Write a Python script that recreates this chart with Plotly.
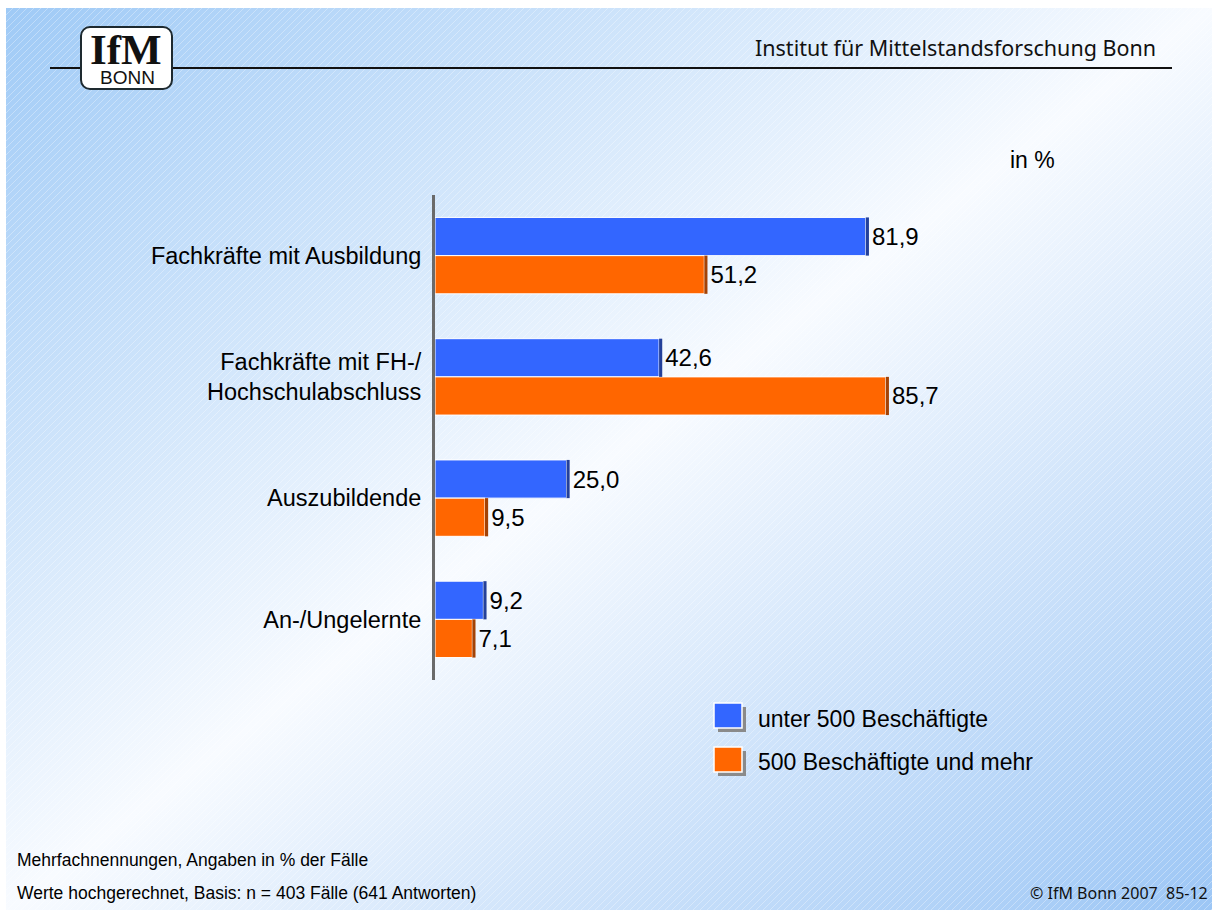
import base64
import plotly.graph_objects as go

# ---------------- data ----------------
categories = [
    "Fachkräfte mit Ausbildung",
    "Fachkräfte mit FH-/<br>Hochschulabschluss",
    "Auszubildende",
    "An-/Ungelernte",
]
under500 = [81.9, 42.6, 25.0, 9.2]
over500 = [51.2, 85.7, 9.5, 7.1]
series_names = ["unter 500 Beschäftigte", "500 Beschäftigte und mehr"]

# ---------------- layout helpers (pixels) ----------------
W, H = 1212, 910
L, R, T, B = 435, 961, 195, 680


def X(px):
    return (px - L) / (R - L)


def Y(py):
    return (B - py) / (B - T)


def fmt(v):
    return f"{v:.1f}".replace(".", ",")


BLUE, BLUE_SIDE = "#3366ff", "#23409a"
ORANGE, ORANGE_SIDE = "#ff6600", "#a34205"
DEPTH = 0.6
FONT = "Liberation Sans, Arial, sans-serif"
SANS2 = "Noto Sans, sans-serif"

fig = go.Figure()
for name, vals, col, grp in [
    (series_names[0], under500, BLUE, "a"),
    (series_names[1], over500, ORANGE, "b"),
]:
    fig.add_trace(go.Bar(
        name=name, y=categories, x=vals, orientation="h", offsetgroup=grp,
        marker=dict(color=col, line=dict(color="#ffffff", width=1)),
        showlegend=False, hoverinfo="x+y",
    ))
for vals, col, grp in [(under500, BLUE_SIDE, "a"), (over500, ORANGE_SIDE, "b")]:
    fig.add_trace(go.Bar(
        y=categories, x=[DEPTH] * len(vals), base=vals, orientation="h",
        offsetgroup=grp, marker=dict(color=col, line=dict(width=0)),
        text=[fmt(v) for v in vals], textposition="outside",
        textfont=dict(family=FONT, size=24, color="#000000"),
        cliponaxis=False, showlegend=False, hoverinfo="skip",
    ))

# ---------------- background (gradient + hatching + logo box + header rule) ----------------
svg = f'''<svg xmlns="http://www.w3.org/2000/svg" width="{W}" height="{H}" viewBox="0 0 {W} {H}">
<defs>
<linearGradient id="g" x1="0" y1="0" x2="1" y2="1">
<stop offset="0" stop-color="#9fcaf6"/>
<stop offset="0.5" stop-color="#f8fbff"/>
<stop offset="1" stop-color="#9cc6f5"/>
</linearGradient>
<pattern id="p" patternUnits="userSpaceOnUse" width="7" height="7">
<path d="M-1,1 L1,-1 M0,7 L7,0 M6,8 L8,6" stroke="#ffffff" stroke-opacity="0.45" stroke-width="0.7"/>
</pattern>
</defs>
<rect x="0" y="0" width="{W}" height="{H}" fill="#ffffff"/>
<rect x="6" y="8" width="{W-6}" height="{H-8}" fill="url(#g)"/>
<rect x="6" y="8" width="{W-6}" height="{H-8}" fill="url(#p)"/>
<line x1="50" y1="68" x2="1172" y2="68" stroke="#111111" stroke-width="2"/>
<rect x="81" y="27" width="91" height="62" rx="9" ry="9" fill="#ffffff" stroke="#1e2a30" stroke-width="2"/>
</svg>'''
src = "data:image/svg+xml;base64," + base64.b64encode(svg.encode("utf-8")).decode("ascii")

shapes = []
for y0, col in [(703, BLUE), (747, ORANGE)]:
    shapes.append(dict(type="rect", xref="paper", yref="paper",
                       x0=X(718), x1=X(746), y0=Y(y0 + 4), y1=Y(y0 + 29),
                       fillcolor="#8a8a8a", line=dict(width=0), layer="above"))
    shapes.append(dict(type="rect", xref="paper", yref="paper",
                       x0=X(714), x1=X(742), y0=Y(y0), y1=Y(y0 + 25),
                       fillcolor=col, line=dict(color="#ffffff", width=1.5), layer="above"))


def ann(text, px, py, size, xanchor="left", family=FONT, color="#000000"):
    return dict(text=text, x=X(px), y=Y(py), xref="paper", yref="paper",
                xanchor=xanchor, yanchor="middle", showarrow=False,
                font=dict(family=family, size=size, color=color))


annotations = [
    ann("<b>IfM</b>", 126, 50, 43, "center", "Liberation Serif, Times New Roman, serif", "#111111"),
    ann("BONN", 127, 78, 19, "center", FONT, "#111111"),
    ann("Institut für Mittelstandsforschung Bonn", 1158, 48, 21.5, "right", SANS2, "#111111"),
    ann("in %", 1032, 160, 23, "center"),
    ann(series_names[0], 756, 719, 23),
    ann(series_names[1], 756, 762, 23),
    ann("Mehrfachnennungen, Angaben in % der Fälle", 15, 860, 17.5),
    ann("Werte hochgerechnet, Basis: n = 403 Fälle (641 Antworten)", 15, 893, 17.5),
    ann("© IfM Bonn 2007  85-12", 1210, 893, 16, "right", SANS2, "#111111"),
]

fig.update_layout(
    width=W, height=H,
    margin=dict(l=L, r=W - R, t=T, b=H - B, pad=0),
    paper_bgcolor="#ffffff", plot_bgcolor="rgba(0,0,0,0)",
    barmode="group", bargap=0.37, bargroupgap=0.0,
    separators=",.",
    showlegend=False,
    images=[dict(source=src, xref="paper", yref="paper", x=X(0), y=Y(0),
                 sizex=W / (R - L), sizey=H / (B - T), xanchor="left", yanchor="top",
                 sizing="stretch", layer="below")],
    shapes=shapes,
    annotations=annotations,
    xaxis=dict(range=[0, 100], showgrid=False, zeroline=False, showticklabels=False,
               showline=False, ticks=""),
    yaxis=dict(autorange="reversed", showgrid=False, zeroline=False,
               showline=True, linecolor="#6a6a6a", linewidth=3, ticks="",
               ticklabelstandoff=6,
               tickfont=dict(family=FONT, size=23.5, color="#000000")),
    font=dict(family=FONT),
)

fig.write_html(
    "out.html",
    config={"displayModeBar": False},
    post_script="document.body.style.margin='0';document.documentElement.style.overflow='hidden';",
)
